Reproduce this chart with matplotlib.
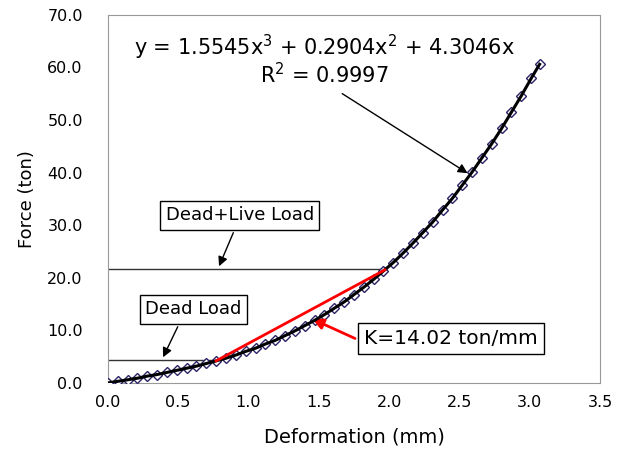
import matplotlib
matplotlib.use("Agg")
import matplotlib.pyplot as plt

deform = [0.00, 0.07, 0.14, 0.21, 0.28, 0.35, 0.42, 0.49, 0.56, 0.63,
          0.70, 0.77, 0.84, 0.91, 0.98, 1.05, 1.12, 1.19, 1.26, 1.33,
          1.40, 1.47, 1.54, 1.61, 1.68, 1.75, 1.82, 1.89, 1.96, 2.03,
          2.10, 2.17, 2.24, 2.31, 2.38, 2.45, 2.52, 2.59, 2.66, 2.73,
          2.80, 2.87, 2.94, 3.01, 3.07]
force = [0.0, 0.3, 0.6, 0.9, 1.3, 1.6, 2.0, 2.4, 2.8, 3.2,
         3.7, 4.2, 4.7, 5.3, 6.0, 6.6, 7.4, 8.1, 9.0, 9.9,
         10.9, 11.9, 13.0, 14.2, 15.4, 16.8, 18.2, 19.7, 21.3, 22.9,
         24.7, 26.6, 28.6, 30.6, 32.9, 35.1, 37.6, 40.1, 42.8, 45.5,
         48.4, 51.5, 54.6, 57.9, 60.6]

dead_load = 4.4
dead_live_load = 21.7
dead_load_end = 0.78
dead_live_end = 1.98
stiff_x = [0.77, 1.97]
stiff_y = [4.2, 21.5]

fit_text = "y = 1.5545x$^3$ + 0.2904x$^2$ + 4.3046x"
r2_text = "R$^2$ = 0.9997"
k_text = "K=14.02 ton/mm"

plt.rcParams['font.family'] = ['DejaVu Sans']
plt.rcParams['mathtext.fontset'] = 'dejavusans'

fig = plt.figure(figsize=(6.27, 4.5), dpi=100)
ax = fig.add_axes([0.172, 0.149, 0.785, 0.818])

ax.plot(deform, force, linestyle='none', marker='D', markersize=5.5,
        markerfacecolor='white', markeredgecolor='#2a2366', markeredgewidth=1.0, zorder=3)
ax.plot(deform, force, color='black', linewidth=2.2, zorder=4)

ax.plot([0, dead_live_end], [dead_live_load, dead_live_load], color='#333333', linewidth=1.0, zorder=2)
ax.plot([0, dead_load_end], [dead_load, dead_load], color='#333333', linewidth=1.0, zorder=2)
ax.plot(stiff_x, stiff_y, color='red', linewidth=2.0, zorder=5)

box = dict(boxstyle='square,pad=0.3', facecolor='white', edgecolor='black', linewidth=1.0)
arrow_k = dict(arrowstyle='-|>', color='black', linewidth=1.0, mutation_scale=14)

ax.annotate("Dead+Live Load", xy=(0.783, dead_live_load), xytext=(0.939, 31.9),
            fontsize=13, ha='center', va='center', bbox=box,
            arrowprops=dict(arrow_k, relpos=(0.48, 0.0)))
ax.annotate("Dead Load", xy=(0.384, dead_load), xytext=(0.608, 14.0),
            fontsize=13, ha='center', va='center', bbox=box,
            arrowprops=dict(arrow_k, relpos=(0.38, 0.0)))
ax.annotate(k_text, xy=(1.437, 12.36), xytext=(2.44, 8.4),
            fontsize=14.5, ha='center', va='center', bbox=box,
            arrowprops=dict(arrowstyle='-|>', color='red', linewidth=2.0,
                            mutation_scale=16, relpos=(0.0, 0.3)))

ax.text(1.537, 63.9, fit_text, fontsize=15, ha='center', va='center')
ax.text(1.537, 58.6, r2_text, fontsize=15, ha='center', va='center')
ax.annotate("", xy=(2.575, 39.6), xytext=(1.650, 55.3), arrowprops=arrow_k)

ax.set_xlim(0, 3.5)
ax.set_ylim(0, 70)
ax.set_xticks([0.0, 0.5, 1.0, 1.5, 2.0, 2.5, 3.0, 3.5])
ax.set_yticks([0, 10, 20, 30, 40, 50, 60, 70])
ax.set_xticklabels(["0.0", "0.5", "1.0", "1.5", "2.0", "2.5", "3.0", "3.5"])
ax.set_yticklabels(["0.0", "10.0", "20.0", "30.0", "40.0", "50.0", "60.0", "70.0"])
ax.tick_params(length=0, labelsize=11.5)
ax.tick_params(axis='y', pad=18)
ax.tick_params(axis='x', pad=9)
ax.set_xlabel("Deformation (mm)", fontsize=14, labelpad=12)
ax.set_ylabel("Force (ton)", fontsize=13, labelpad=8)
for s in ax.spines.values():
    s.set_linestyle((0, (1, 1)))
    s.set_color('#999999')
    s.set_linewidth(0.8)

fig.savefig("out.png", dpi=100)
